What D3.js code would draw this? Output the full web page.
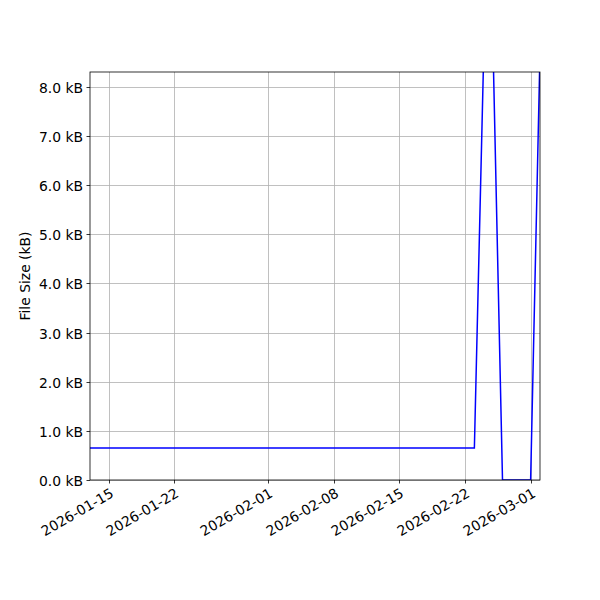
<!DOCTYPE html>
<html>
<head>
<meta charset="utf-8">
<script src="https://cdn.jsdelivr.net/npm/d3@7"></script>
<style>
  body { margin: 0; background: #fff; }
  text { font-family: "DejaVu Sans", sans-serif; }
</style>
</head>
<body>
<svg id="chart" width="600" height="600"></svg>
<script>
const dates = ["2026-01-13", "2026-02-23", "2026-02-24", "2026-02-25", "2026-02-26", "2026-03-01", "2026-03-02"];
const sizesKB = [0.65, 0.65, 8.7, 8.7, 0.0, 0.0, 8.7];
const xTickDates = ["2026-01-15", "2026-01-22", "2026-02-01", "2026-02-08", "2026-02-15", "2026-02-22", "2026-03-01"];
const yTicks = [0, 1, 2, 3, 4, 5, 6, 7, 8];
const yMax = 8.3;

const parse = d3.utcParse("%Y-%m-%d");
const data = dates.map((d, i) => ({ date: parse(d), v: sizesKB[i] }));

const svg = d3.select("#chart");
const m = { left: 90, right: 540, top: 72, bottom: 480 };

const x = d3.scaleUtc().domain(d3.extent(data, d => d.date)).range([m.left, m.right]);
const y = d3.scaleLinear().domain([0, yMax]).range([m.bottom, m.top]);

svg.append("rect").attr("width", 600).attr("height", 600).attr("fill", "#fff");

// grid
const grid = svg.append("g");
xTickDates.forEach(t => {
  const px = Math.round(x(parse(t))) + 0.5;
  grid.append("line").attr("x1", px).attr("x2", px).attr("y1", m.top).attr("y2", m.bottom)
    .attr("stroke", "#b0b0b0").attr("stroke-width", 0.8);
});
yTicks.forEach(t => {
  const py = Math.round(y(t)) + 0.5;
  grid.append("line").attr("x1", m.left).attr("x2", m.right).attr("y1", py).attr("y2", py)
    .attr("stroke", "#b0b0b0").attr("stroke-width", 0.8);
});

// clip
svg.append("clipPath").attr("id", "clip").append("rect")
  .attr("x", m.left).attr("y", m.top).attr("width", m.right - m.left).attr("height", m.bottom - m.top);

const line = d3.line().x(d => x(d.date)).y(d => y(d.v));
svg.append("path").datum(data).attr("d", line).attr("fill", "none")
  .attr("stroke", "#0000ff").attr("stroke-width", 1.5).attr("clip-path", "url(#clip)");

// spines
svg.append("rect").attr("x", m.left).attr("y", m.top).attr("width", m.right - m.left).attr("height", m.bottom - m.top)
  .attr("fill", "none").attr("stroke", "#000").attr("stroke-width", 0.8);

// y axis ticks
const yAxis = svg.append("g");
yTicks.forEach(t => {
  const py = Math.round(y(t)) + 0.5;
  yAxis.append("line").attr("x1", m.left - 3.5).attr("x2", m.left).attr("y1", py).attr("y2", py)
    .attr("stroke", "#000").attr("stroke-width", 0.8);
  yAxis.append("text").attr("x", m.left - 7).attr("y", py).attr("dy", "0.36em")
    .attr("text-anchor", "end").attr("font-size", "13.9px").attr("fill", "#000")
    .text(t.toFixed(1) + " kB");
});

// x axis ticks
const xAxis = svg.append("g");
xTickDates.forEach(t => {
  const px = Math.round(x(parse(t))) + 0.5;
  xAxis.append("line").attr("x1", px).attr("x2", px).attr("y1", m.bottom).attr("y2", m.bottom + 3.5)
    .attr("stroke", "#000").attr("stroke-width", 0.8);
  xAxis.append("text")
    .attr("transform", `translate(${px},${m.bottom + 7}) rotate(-30)`)
    .attr("text-anchor", "end").attr("y", 10.5)
    .attr("font-size", "13.9px").attr("fill", "#000")
    .text(t);
});

svg.append("text")
  .attr("transform", `translate(30,${(m.top + m.bottom) / 2}) rotate(-90)`)
  .attr("text-anchor", "middle").attr("font-size", "13.9px").attr("fill", "#000")
  .text("File Size (kB)");
</script>
</body>
</html>
